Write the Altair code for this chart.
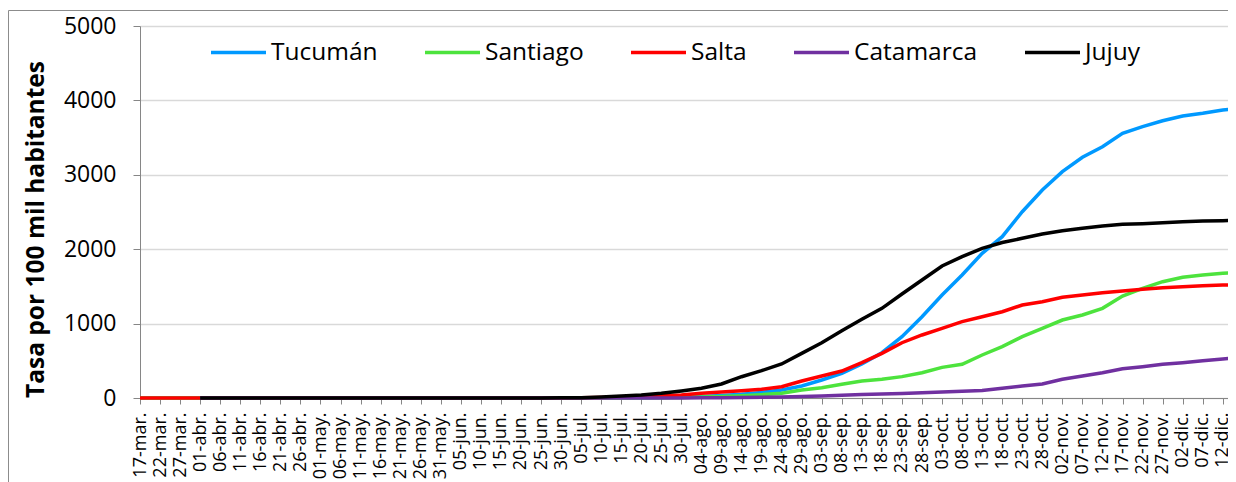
import json
import altair as alt
import pandas as pd

tick_labels = ["17-mar.", "22-mar.", "27-mar.", "01-abr.", "06-abr.", "11-abr.", "16-abr.", "21-abr.",
               "26-abr.", "01-may.", "06-may.", "11-may.", "16-may.", "21-may.", "26-may.", "31-may.",
               "05-jun.", "10-jun.", "15-jun.", "20-jun.", "25-jun.", "30-jun.", "05-jul.", "10-jul.",
               "15-jul.", "20-jul.", "25-jul.", "30-jul.", "04-ago.", "09-ago.", "14-ago.", "19-ago.",
               "24-ago.", "29-ago.", "03-sep.", "08-sep.", "13-sep.", "18-sep.", "23-sep.", "28-sep.",
               "03-oct.", "08-oct.", "13-oct.", "18-oct.", "23-oct.", "28-oct.", "02-nov.", "07-nov.",
               "12-nov.", "17-nov.", "22-nov.", "27-nov.", "02-dic.", "07-dic.", "12-dic."]

# day offsets from 17-mar (every 5 days, plus the last visible day at the right edge)
days = [0, 5, 10, 15, 20, 25, 30, 35, 40, 45, 50, 55, 60, 65, 70, 75, 80, 85, 90, 95,
        100, 105, 110, 115, 120, 125, 130, 135, 140, 145, 150, 155, 160, 165, 170, 175,
        180, 185, 190, 195, 200, 205, 210, 215, 220, 225, 230, 235, 240, 245, 250, 255,
        260, 265, 270, 272]
tick_days = days[:-1]

provincias = ["Tucumán", "Santiago", "Salta", "Catamarca", "Jujuy"]
colores = ["#0099FF", "#4DE33D", "#FF0000", "#7030A0", "#000000"]

tucuman = [0, 0, 0, 0, 0, 0, 0, 0, 0, 0, 0, 0, 0, 0, 0, 0, 0, 0, 0, 0,
           0, 0, 1, 2, 3, 5, 8, 12, 20, 35, 50, 75, 108, 161, 242, 332,
           457, 609, 824, 1093, 1384, 1653, 1945, 2168, 2504, 2796, 3042, 3235, 3378, 3558, 3647, 3727,
           3790, 3826, 3871, 3880]
santiago = [0, 0, 0, 0, 0, 0, 0, 0, 0, 0, 0, 0, 0, 0, 0, 0, 0, 0, 0, 0,
            0, 0, 0, 0, 1, 2, 4, 8, 12, 20, 30, 45, 65, 108, 139, 184,
            228, 251, 287, 340, 412, 453, 578, 690, 824, 937, 1048, 1116, 1205, 1371, 1474, 1563,
            1622, 1653, 1676, 1680]
salta = [0, 0, 0, 0, 0, 0, 0, 0, 0, 0, 0, 0, 0, 0, 0, 0, 0, 0, 0, 0,
         0, 0, 5, 8, 12, 20, 31, 40, 63, 81, 98, 117, 152, 228, 296, 363,
         475, 600, 743, 847, 937, 1026, 1093, 1160, 1250, 1294, 1353, 1384, 1415, 1438, 1461, 1483,
         1496, 1510, 1519, 1521]
catamarca = [None, None, None, 0, 0, 0, 0, 0, 0, 0, 0, 0, 0, 0, 0, 0, 0, 0, 0, 0,
             0, 0, 0, 0, 0, 0, 0, 0, 2, 4, 6, 9, 14, 20, 28, 38,
             48, 55, 62, 70, 80, 90, 102, 130, 161, 188, 251, 296, 340, 394, 421, 453,
             475, 502, 525, 533]
jujuy = [None, None, None, 0, 0, 0, 0, 0, 0, 0, 0, 0, 0, 0, 0, 0, 0, 0, 0, 0,
         1, 2, 5, 15, 27, 40, 63, 94, 130, 188, 286, 367, 457, 600, 743, 905,
         1058, 1205, 1398, 1586, 1774, 1899, 2012, 2090, 2146, 2204, 2249, 2281, 2312, 2335, 2343, 2356,
         2370, 2379, 2383, 2385]

series = {"Tucumán": tucuman, "Santiago": santiago, "Salta": salta,
          "Catamarca": catamarca, "Jujuy": jujuy}

rows = []
for p in provincias:
    for d, v in zip(days, series[p]):
        if v is not None:
            rows.append({"day": d, "value": v, "provincia": p})
df = pd.DataFrame(rows)

FONT = "Open Sans"
label_expr = json.dumps(tick_labels) + "[round(datum.value / 5)]"

x_enc = alt.X(
    "day:Q",
    scale=alt.Scale(domain=[0, 271.3], nice=False, zero=False),
    axis=alt.Axis(
        values=tick_days, labelExpr=label_expr, labelAngle=-90, title=None,
        grid=False, tickSize=6, tickColor="#868686", domainColor="#868686",
        labelFont=FONT, labelFontSize=18, labelColor="#000000", labelPadding=8,
        labelOverlap=False, labelFlush=False, labelBound=False,
    ),
)
y_enc = alt.Y(
    "value:Q",
    scale=alt.Scale(domain=[0, 5000], nice=False),
    axis=alt.Axis(
        values=[0, 1000, 2000, 3000, 4000, 5000], format="d", title="Tasa por 100 mil habitantes",
        grid=True, gridColor="#d9d9d9", gridWidth=1.5,
        tickSize=7, tickColor="#868686", domainColor="#868686",
        labelFont=FONT, labelFontSize=23, labelColor="#000000", labelPadding=17,
        titleFont=FONT, titleFontSize=24.5, titleFontWeight="bold", titleColor="#000000",
        titleX=-97, titleY=203, titleAngle=270, titleAlign="center", titleBaseline="alphabetic",
    ),
)
legend = alt.Legend(
    orient="none", legendX=69, legendY=-3, direction="horizontal", columns=5, title=None,
    symbolType="stroke", symbolSize=3025, symbolStrokeWidth=3.5,
    labelFont=FONT, labelFontSize=24.5, labelColor="#000000", labelOffset=3,
    columnPadding=40, padding=0,
)
color_enc = alt.Color("provincia:N", scale=alt.Scale(domain=provincias, range=colores), legend=legend)

frame = alt.Chart(alt.Data(values=[{"f": 1}])).mark_rect(
    fill="transparent", stroke="#8c8c8c", strokeWidth=1
).encode(x=alt.value(-131.5), x2=alt.value(1300), y=alt.value(-15.5), y2=alt.value(700))

layers = [frame]
for p in provincias:
    layers.append(
        alt.Chart(df).transform_filter(alt.datum.provincia == p)
        .mark_line(strokeWidth=3.5)
        .encode(x=x_enc, y=y_enc, color=color_enc)
    )

chart = alt.layer(*layers).properties(
    width=1088, height=372,
    autosize=alt.AutoSizeParams(type="none"),
    padding={"left": 132, "top": 18, "right": 0, "bottom": 84},
).configure_view(stroke=None)

chart.save("out.html", embed_options={"renderer": "svg", "actions": False})
